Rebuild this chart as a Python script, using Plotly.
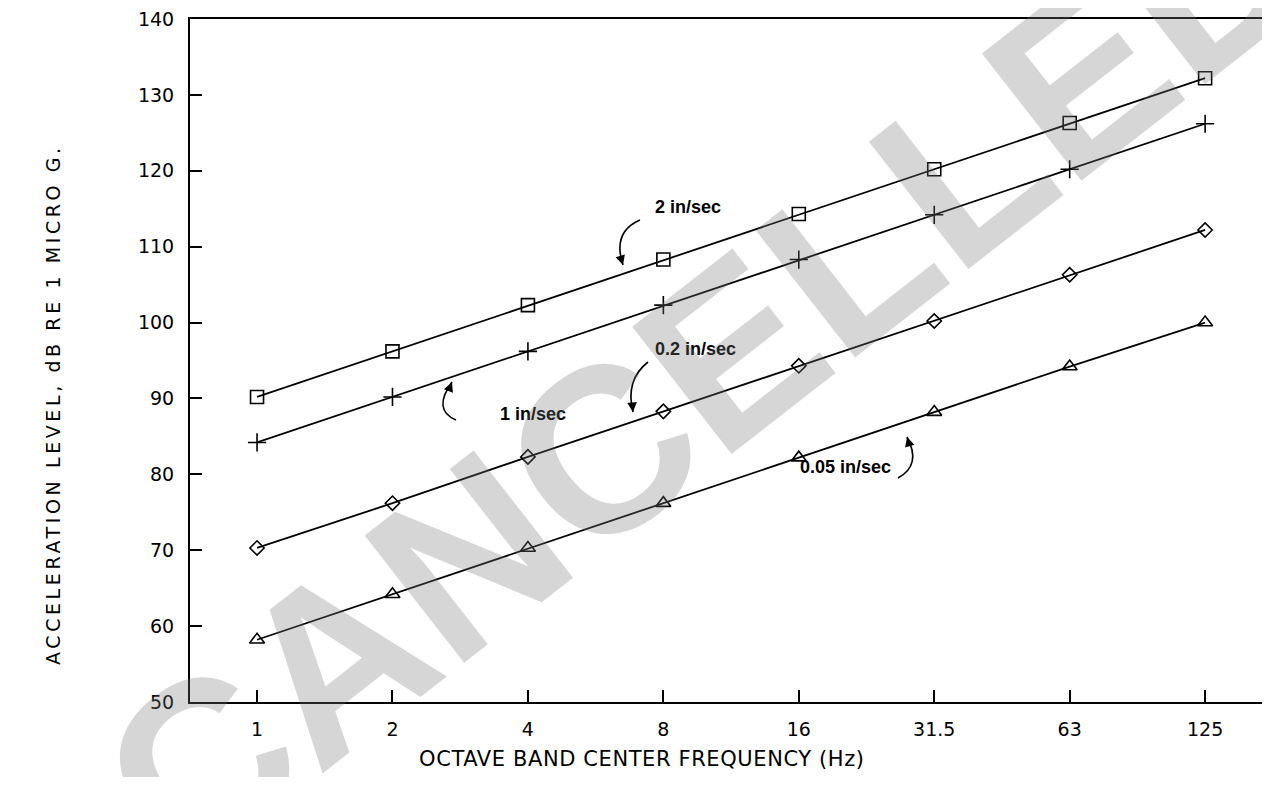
import plotly.graph_objects as go

freqs = ["1", "2", "4", "8", "16", "31.5", "63", "125"]
v_2in = [90.2, 96.2, 102.3, 108.3, 114.3, 120.2, 126.3, 132.2]
v_1in = [84.2, 90.2, 96.2, 102.3, 108.3, 114.2, 120.2, 126.2]
v_02in = [70.3, 76.2, 82.3, 88.3, 94.3, 100.2, 106.3, 112.2]
v_005in = [58.2, 64.2, 70.3, 76.2, 82.2, 88.2, 94.2, 100.0]
yticks = [50, 60, 70, 80, 90, 100, 110, 120, 130, 140]

# page body has an 8px margin, so the figure is shrunk to fit the window
OFF = 8
W, H = 1270 - 2 * OFF, 785 - 2 * OFF
L, R, T, B = 182, 0, 11, 75
PW, PH = W - L - R, H - T - B


def px(x):  # x in window pixels
    return (x - OFF - L) / PW


def py(y):  # y in window pixels
    return (H - B - (y - OFF)) / PH


fig = go.Figure()
series = [
    (v_2in, "square-open", 13, "2 in/sec"),
    (v_1in, "cross-thin-open", 13, "1 in/sec"),
    (v_02in, "diamond-open", 11, "0.2 in/sec"),
    (v_005in, "triangle-up-open", 13, "0.05 in/sec"),
]
for vals, sym, sz, name in series:
    fig.add_trace(go.Scatter(
        x=freqs, y=vals, mode="lines+markers", name=name,
        line=dict(color="black", width=1.8),
        marker=dict(symbol=sym, size=sz, color="black",
                    line=dict(color="black", width=1.6)),
        showlegend=False,
    ))

lbl_font = dict(family="Liberation Sans, Arial", size=18, color="black", weight="bold")
labels = [
    ("2 in/sec", 688, 195),
    ("1 in/sec", 498, 414),
    ("0.2 in/sec", 695, 349),
    ("0.05 in/sec", 845, 479),
]
annotations = []
for t, x, y in labels:
    annotations.append(dict(text=t, x=px(x), y=py(y), xref="paper", yref="paper",
                            showarrow=False, font=lbl_font))

# curved arrows: (tail, control, head, head-direction offset)
curves = [
    ((640, 220), (612, 232), (623, 265), (-3, -10)),
    ((456, 420), (432, 410), (452, 382), (-4, 10)),
    ((648, 362), (625, 380), (633, 412), (-1, -10)),
    ((898, 478), (922, 465), (907, 437), (3, 10)),
]
shapes = []
for (x0, y0), (cx, cy), (x1, y1), (dx, dy) in curves:
    path = f"M {px(x0)},{py(y0)} Q {px(cx)},{py(cy)} {px(x1)},{py(y1)}"
    shapes.append(dict(type="path", path=path, xref="paper", yref="paper",
                       line=dict(color="black", width=1.6)))
    annotations.append(dict(text="", x=px(x1), y=py(y1), xref="paper", yref="paper",
                            showarrow=True, ax=dx, ay=dy, arrowhead=2,
                            arrowsize=1.2, arrowwidth=1.6, arrowcolor="black",
                            standoff=0))

annotations.append(dict(
    text='<span style="letter-spacing:3.6px">ACCELERATION LEVEL, dB RE 1 MICRO G.</span>',
    x=px(40), y=py(405),
    xref="paper", yref="paper", showarrow=False, textangle=-90,
    font=dict(family="DejaVu Sans", size=19, color="black")))

annotations.append(dict(
    text='<span style="letter-spacing:0.6px">OCTAVE BAND CENTER FREQUENCY (Hz)</span>',
    x=px(642), y=py(773),
    xref="paper", yref="paper", showarrow=False,
    font=dict(family="DejaVu Sans", size=21, color="black")))

annotations.append(dict(
    text="CANCELLED", x=px(705), y=py(372), xref="paper", yref="paper",
    showarrow=False, textangle=-38,
    font=dict(family="Liberation Sans, Arial", size=235, color="rgba(120,120,120,0.3)",
              weight="bold")))

tick_font = dict(family="DejaVu Sans", size=19, color="black")
fig.update_layout(
    width=W, height=H,
    margin=dict(l=L, r=R, t=T, b=B),
    paper_bgcolor="white", plot_bgcolor="white",
    annotations=annotations, shapes=shapes,
    xaxis=dict(
        type="category", range=[-0.495, 7.42], showgrid=False, zeroline=False,
        showline=True, mirror=True, linecolor="black", linewidth=2,
        ticks="inside", ticklen=12, tickwidth=1.6, tickcolor="black",
        tickfont=tick_font, ticklabelstandoff=9, automargin=False,
    ),
    yaxis=dict(
        range=[50, 140], tickvals=yticks, showgrid=False, zeroline=False,
        showline=True, mirror=True, linecolor="black", linewidth=2,
        ticks="inside", ticklen=12, tickwidth=1.6, tickcolor="black",
        tickfont=tick_font, ticklabelstandoff=10, ticklabeloverflow="allow",
        automargin=False,
    ),
)

fig.write_html("out.html")
